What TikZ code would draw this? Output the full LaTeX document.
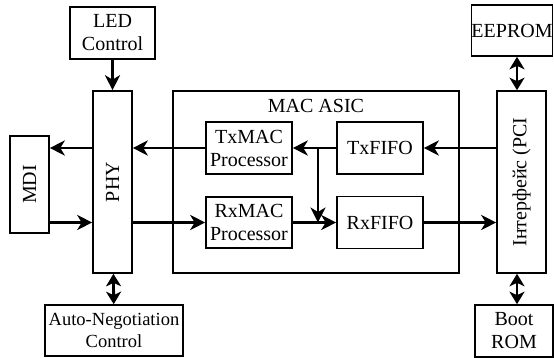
\documentclass[tikz,border=0pt]{standalone}
\usepackage{fontspec}
\setmainfont{Liberation Serif}
\usetikzlibrary{arrows.meta,calc}
\begin{document}
\begin{tikzpicture}[x=1pt,y=-1pt,
  blk/.style={draw,line width=1.6pt,inner sep=0pt,align=center,
    font=\fontsize{20}{23}\selectfont},
  conn/.style={line width=2.8pt,-{Stealth[length=15pt,width=15pt,inset=4.5pt]}},
  biconn/.style={line width=2.8pt,{Stealth[length=12.5pt,width=15pt,inset=3.5pt]}-{Stealth[length=12.5pt,width=15pt,inset=3.5pt]}}]
\useasboundingbox (0,0) rectangle (554,358);
% blocks
\node[blk,minimum width=286pt,minimum height=182pt] (mac) at (316,182) {};
\node[anchor=base,font=\fontsize{20}{23}\selectfont] (maclbl) at (316,113) {MAC ASIC};
\node[blk,minimum width=85pt,minimum height=52pt] (led) at (112.5,33) {LED\\Control};
\node[blk,minimum width=39pt,minimum height=182pt] (phy) at (112.5,182) {};
\node[rotate=90,font=\fontsize{20}{23}\selectfont] (phylbl) at (phy.center) {PHY};
\node[blk,minimum width=39pt,minimum height=97pt] (mdi) at (29.5,184.5) {};
\node[rotate=90,font=\fontsize{20}{23}\selectfont] (mdilbl) at (mdi.center) {MDI};
\node[blk,minimum width=86pt,minimum height=52pt] (txmac) at (249,148) {TxMAC\\Processor};
\node[blk,minimum width=86pt,minimum height=52pt] (txfifo) at (380,148) {TxFIFO};
\node[blk,minimum width=86pt,minimum height=51pt] (rxmac) at (249,222.5) {RxMAC\\Processor};
\node[blk,minimum width=86pt,minimum height=52pt] (rxfifo) at (380,222.5) {RxFIFO};
\node[blk,minimum width=49pt,minimum height=182pt] (pci) at (521.5,182) {};
\node[rotate=90,font=\fontsize{20}{23}\selectfont] (pcilbl) at (pci.center) {Інтерфейс (PCI};
\node[blk,minimum width=80pt,minimum height=51pt] (eeprom) at (512,30.5) {EEPROM};
\node[blk,minimum width=78pt,minimum height=52pt] (boot) at (514,331) {Boot\\ROM};
\node[blk,minimum width=138pt,minimum height=51pt,font=\fontsize{18.5}{22}\selectfont] (auto) at (114,330.5) {Auto-Negotiation\\Control};
% connectors
\coordinate (pcicol) at (517,0);
\coordinate (br) at ($(txmac.east)!0.58!(txfifo.west)$);
\draw[conn] (led) -- (phy);
\draw[biconn] (auto) -- (phy);
\draw[conn] (phy.west |- txmac) -- (mdi.east |- txmac);
\draw[conn] (mdi.east |- rxmac) -- (phy.west |- rxmac);
\draw[conn] (txmac.west) -- (phy.east |- txmac);
\draw[conn] (phy.east |- rxmac) -- (rxmac.west);
\draw[conn] (txfifo.west) -- (txmac.east);
\draw[conn] (br) -- (br |- rxmac.east);
\draw[conn] (rxmac.east) -- (rxfifo.west);
\draw[conn] (pci.west |- txfifo) -- (txfifo.east);
\draw[conn] (rxfifo.east) -- (pci.west |- rxfifo);
\draw[biconn] (eeprom.south -| pcicol) -- (pci.north -| pcicol);
\draw[biconn] (boot.north -| pcicol) -- (pci.south -| pcicol);
\end{tikzpicture}
\end{document}
